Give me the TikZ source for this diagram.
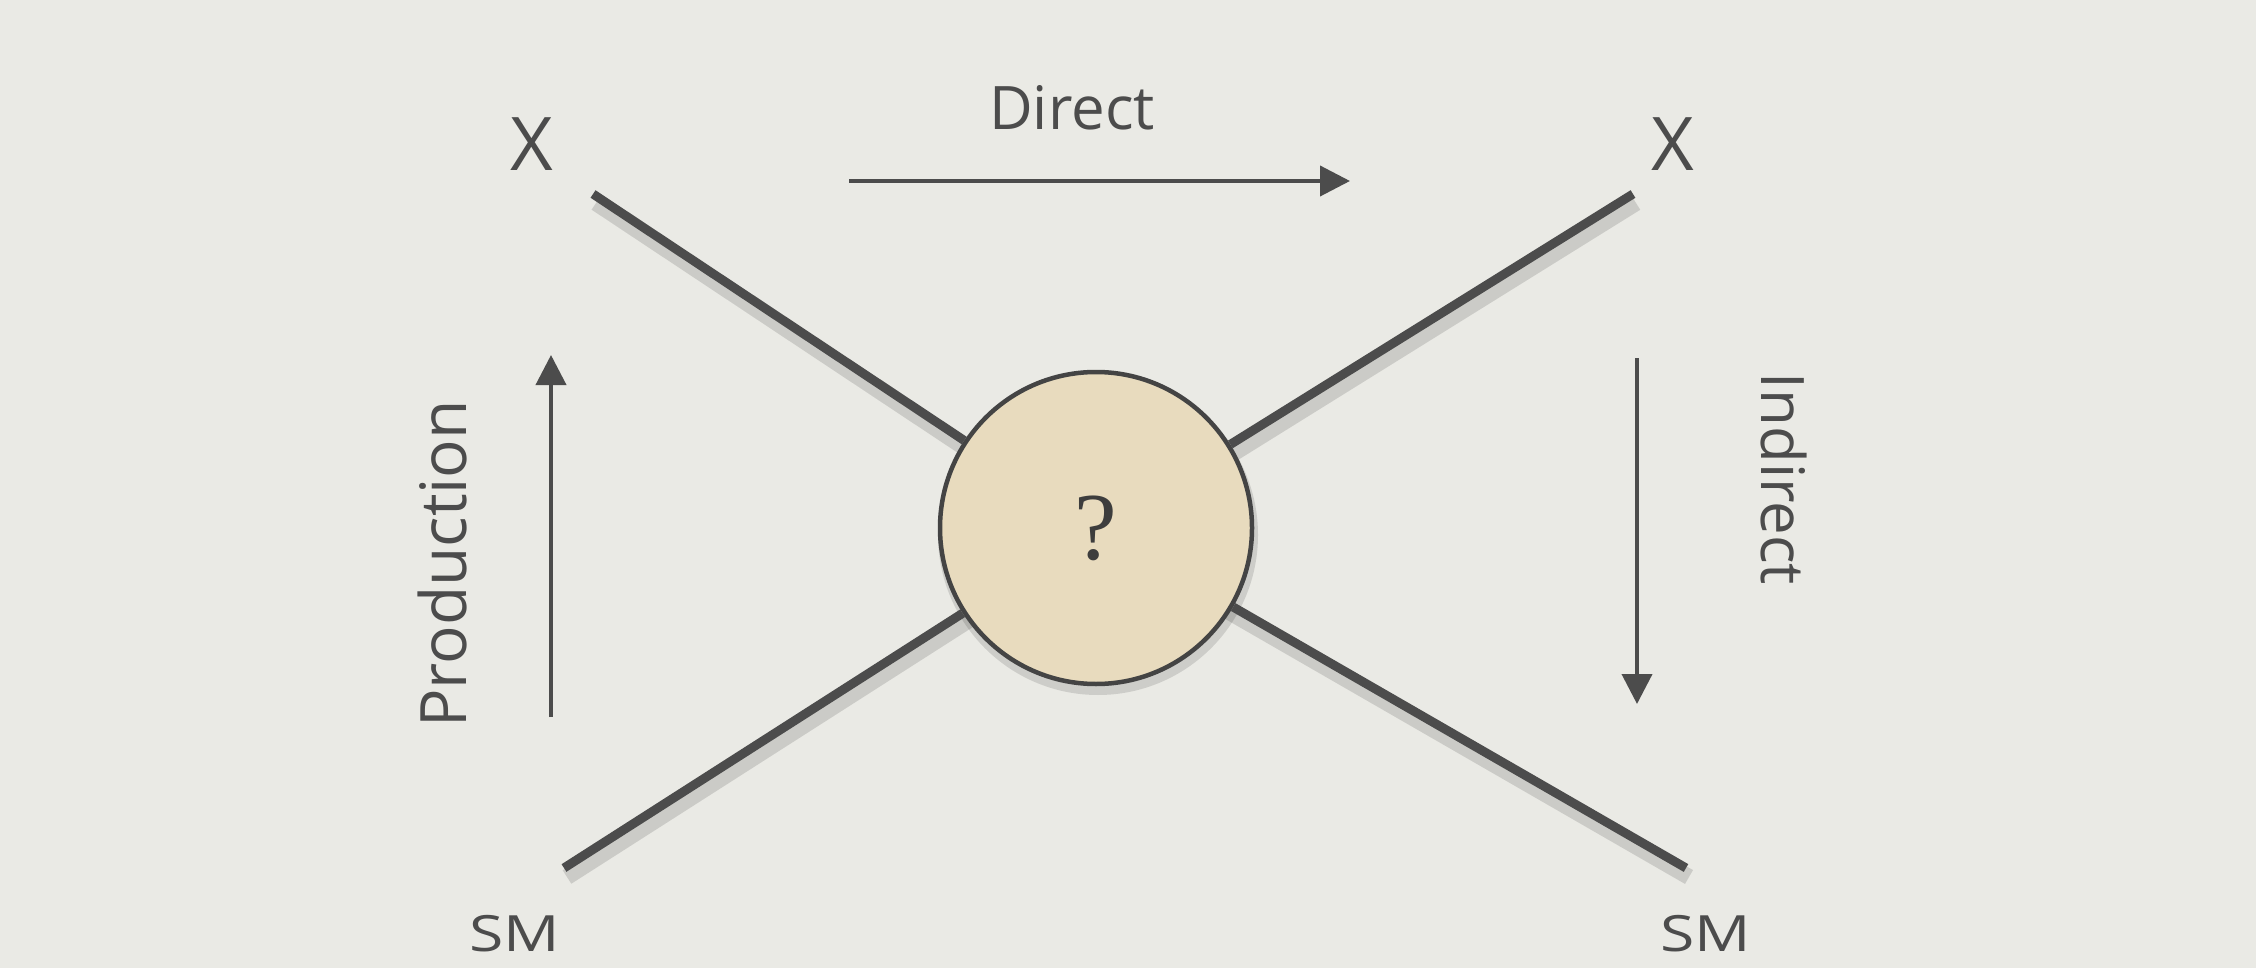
\documentclass[tikz,border=0pt]{standalone}
\usepackage{fontspec}
\setmainfont{Open Sans}
\newfontfamily\qfont{Liberation Serif}
\usetikzlibrary{arrows.meta}
\definecolor{paper}{HTML}{EAEAE5}
\definecolor{ink}{HTML}{4C4C4C}
\definecolor{blobfill}{HTML}{E8DBBE}
\pgfdeclarelayer{back}
\pgfsetlayers{back,main}
\tikzset{
  hand/.style={text=ink, font=\fontsize{60}{70}\selectfont, inner sep=0pt},
  leg/.style={draw=ink, line width=9pt, line cap=butt},
  legshadow/.style={draw=black, opacity=0.13, line width=16pt, line cap=butt},
  flow/.style={draw=ink, line width=4pt, -{Triangle[length=30pt,width=30pt]}},
  blobstyle/.style={circle, draw=ink!90!black, line width=4.5pt, fill=blobfill, minimum size=312pt, inner sep=0pt, text=ink!80!black, font=\qfont\fontsize{96}{100}\selectfont}
}
\begin{document}
\begin{tikzpicture}[x=1pt,y=-1pt]
\begin{pgfonlayer}{back}
\fill[paper] (0,0) rectangle (2256,968);
\end{pgfonlayer}
\useasboundingbox (0,0) rectangle (2256,968);

% central blob
\node[blobstyle] (blob) at (1096,528) {?};

% free ends of the legs
\coordinate (tl) at (593,194);
\coordinate (tr) at (1633,194);
\coordinate (bl) at (564,868);
\coordinate (br) at (1686,868);

\begin{pgfonlayer}{back}
\draw[legshadow] ([shift={(3,9)}]tl) -- ([shift={(3,9)}]blob.center);
\draw[legshadow] ([shift={(3,9)}]tr) -- ([shift={(3,9)}]blob.center);
\draw[legshadow] ([shift={(3,9)}]bl) -- ([shift={(3,9)}]blob.center);
\draw[legshadow] ([shift={(3,9)}]br) -- ([shift={(3,9)}]blob.center);
\fill[black, opacity=0.12] ([shift={(2,7)}]blob.center) circle (160pt);
\end{pgfonlayer}

\draw[leg] (tl) -- (blob);
\draw[leg] (tr) -- (blob);
\draw[leg] (bl) -- (blob);
\draw[leg] (br) -- (blob);

% labels
\node[hand, font=\fontsize{74}{80}\selectfont] (xl) at (532,144) {X};
\node[hand, font=\fontsize{74}{80}\selectfont] (xr) at (1673,144) {X};
\node[hand, font=\fontsize{50}{56}\selectfont, xscale=1.25] (sml) at (515,934) {SM};
\node[hand, font=\fontsize{50}{56}\selectfont, xscale=1.25] (smr) at (1706,934) {SM};
\node[hand] (direct) at (1072,108) {Direct};
\node[hand, rotate=90, font=\fontsize{64}{70}\selectfont] (prod) at (442,564) {Production};
\node[hand, rotate=-90] (indir) at (1784,479) {Indirect};

% process arrows
\coordinate (d0) at (849,181);
\coordinate (d1) at (1350,181);
\coordinate (p0) at (551,717);
\coordinate (p1) at (551,355);
\coordinate (i0) at (1637,358);
\coordinate (i1) at (1637,704);
\draw[flow] (d0) -- (d1);
\draw[flow] (p0) -- (p1);
\draw[flow] (i0) -- (i1);
\end{tikzpicture}
\end{document}
